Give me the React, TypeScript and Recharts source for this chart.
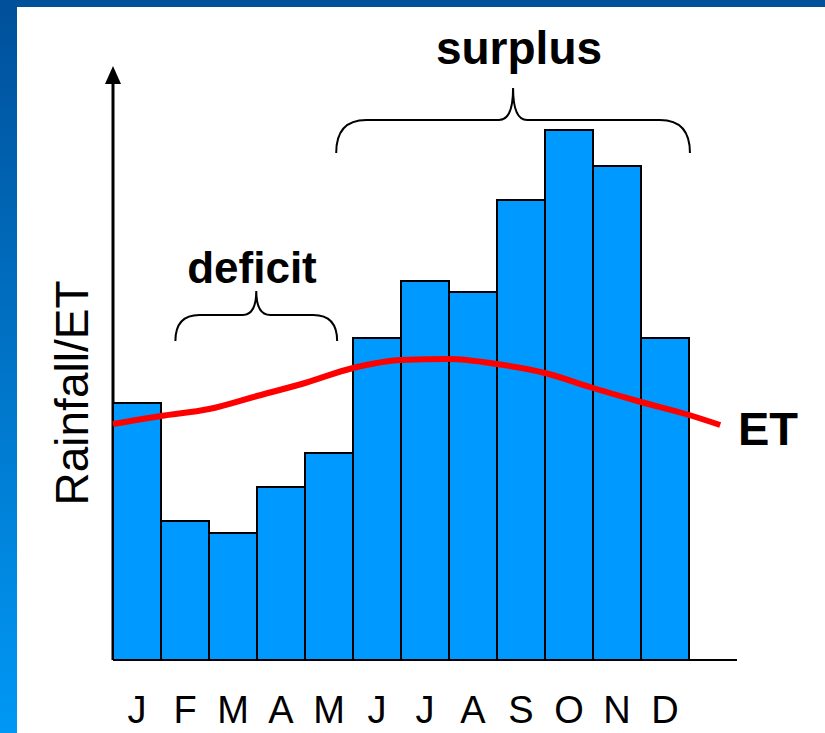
import {
  ComposedChart,
  Bar,
  Line,
  XAxis,
  YAxis,
  Customized,
} from "recharts";

const months = ["J", "F", "M", "A", "M", "J", "J", "A", "S", "O", "N", "D", ""];
const rainfall = [51.4, 27.8, 25.4, 34.6, 41.4, 64.4, 75.8, 73.6, 92, 106, 98.8, 64.4];
const etPos = [0, 1, 2, 3, 4, 5, 6, 7, 8, 9, 10, 11, 12, 12.65];
const etValues = [47.2, 48.8, 50.2, 52.8, 55.4, 58.4, 60, 60.2, 59.2, 57.4, 54.4, 51.6, 49, 47];

const barData = months.map((m, i) => ({ idx: i, rain: rainfall[i] ?? null }));
const etData = etPos.map((p, i) => ({ pos: p, et: etValues[i] }));

const W = 825;
const H = 733;
const margin = { top: 70, right: 88, bottom: 0, left: 113 };
const xAxisH = 73;
const slot = (W - margin.left - margin.right) / months.length;
const font = "'Liberation Sans', Arial, sans-serif";

// brace over a span of month slots
function brace(from: number, to: number, tip: number, flat: number, end: number, r: number) {
  const x1 = margin.left + from * slot;
  const x2 = margin.left + to * slot;
  const mid = (x1 + x2) / 2;
  const r2 = 14;
  return `M${x1},${end} Q${x1},${flat} ${x1 + r},${flat} L${mid - r2},${flat} Q${mid},${flat} ${mid},${tip} Q${mid},${flat} ${mid + r2},${flat} L${x2 - r},${flat} Q${x2},${flat} ${x2},${end}`;
}

function Annotations() {
  const axisBottom = H - xAxisH;
  return (
    <g fontFamily={font}>
      <line x1={margin.left} y1={margin.top} x2={margin.left} y2={axisBottom} stroke="#000" strokeWidth={3} />
      <polygon points={`${margin.left},66 ${margin.left - 8},84 ${margin.left + 8},84`} fill="#000" />
      <path d={brace(1.3, 4.67, 291, 315, 341, 24)} fill="none" stroke="#000" strokeWidth={2} />
      <path d={brace(4.65, 12.02, 88, 120, 153, 30)} fill="none" stroke="#000" strokeWidth={2} />
      <text x={252} y={283} textAnchor="middle" fontSize={44} fontWeight="bold" fill="#000">
        deficit
      </text>
      <text x={519} y={64} textAnchor="middle" fontSize={46} fontWeight="bold" fill="#000">
        surplus
      </text>
      <text x={738} y={445} fontSize={47} fontWeight="bold" fill="#000">
        ET
      </text>
      <text
        x={72}
        y={393}
        transform="rotate(-90 72 393)"
        textAnchor="middle"
        dominantBaseline="central"
        fontSize={46}
        fill="#000"
      >
        Rainfall/ET
      </text>
    </g>
  );
}

export default function App() {
  return (
    <div
      style={{
        position: "absolute",
        left: 0,
        top: 0,
        width: W,
        height: H,
        background: "linear-gradient(#00509a, #0098f5)",
        overflow: "hidden",
      }}
    >
      <div style={{ position: "absolute", left: 17, top: 7, right: 0, bottom: 0, background: "#fff" }} />
      <div style={{ position: "absolute", left: 0, top: 0 }}>
        <ComposedChart width={W} height={H} data={barData} margin={margin} barCategoryGap={0} barGap={0}>
          <XAxis
            xAxisId="cat"
            dataKey="idx"
            type="category"
            axisLine={{ stroke: "#000", strokeWidth: 2 }}
            tickLine={false}
            tickSize={0}
            tickMargin={36}
            height={xAxisH}
            interval={0}
            tickFormatter={(v) => months[v]}
            tick={{ fontSize: 38, fill: "#000", fontFamily: font }}
          />
          <XAxis xAxisId="num" dataKey="pos" type="number" domain={[0, months.length]} hide />
          <YAxis domain={[0, 118]} hide allowDataOverflow />
          <Bar
            xAxisId="cat"
            dataKey="rain"
            fill="#0099ff"
            stroke="#000"
            strokeWidth={2}
            isAnimationActive={false}
          />
          <Line
            xAxisId="num"
            data={etData}
            dataKey="et"
            type="monotone"
            stroke="#ff0000"
            strokeWidth={6}
            dot={false}
            isAnimationActive={false}
          />
          <Customized component={Annotations} />
        </ComposedChart>
      </div>
    </div>
  );
}
